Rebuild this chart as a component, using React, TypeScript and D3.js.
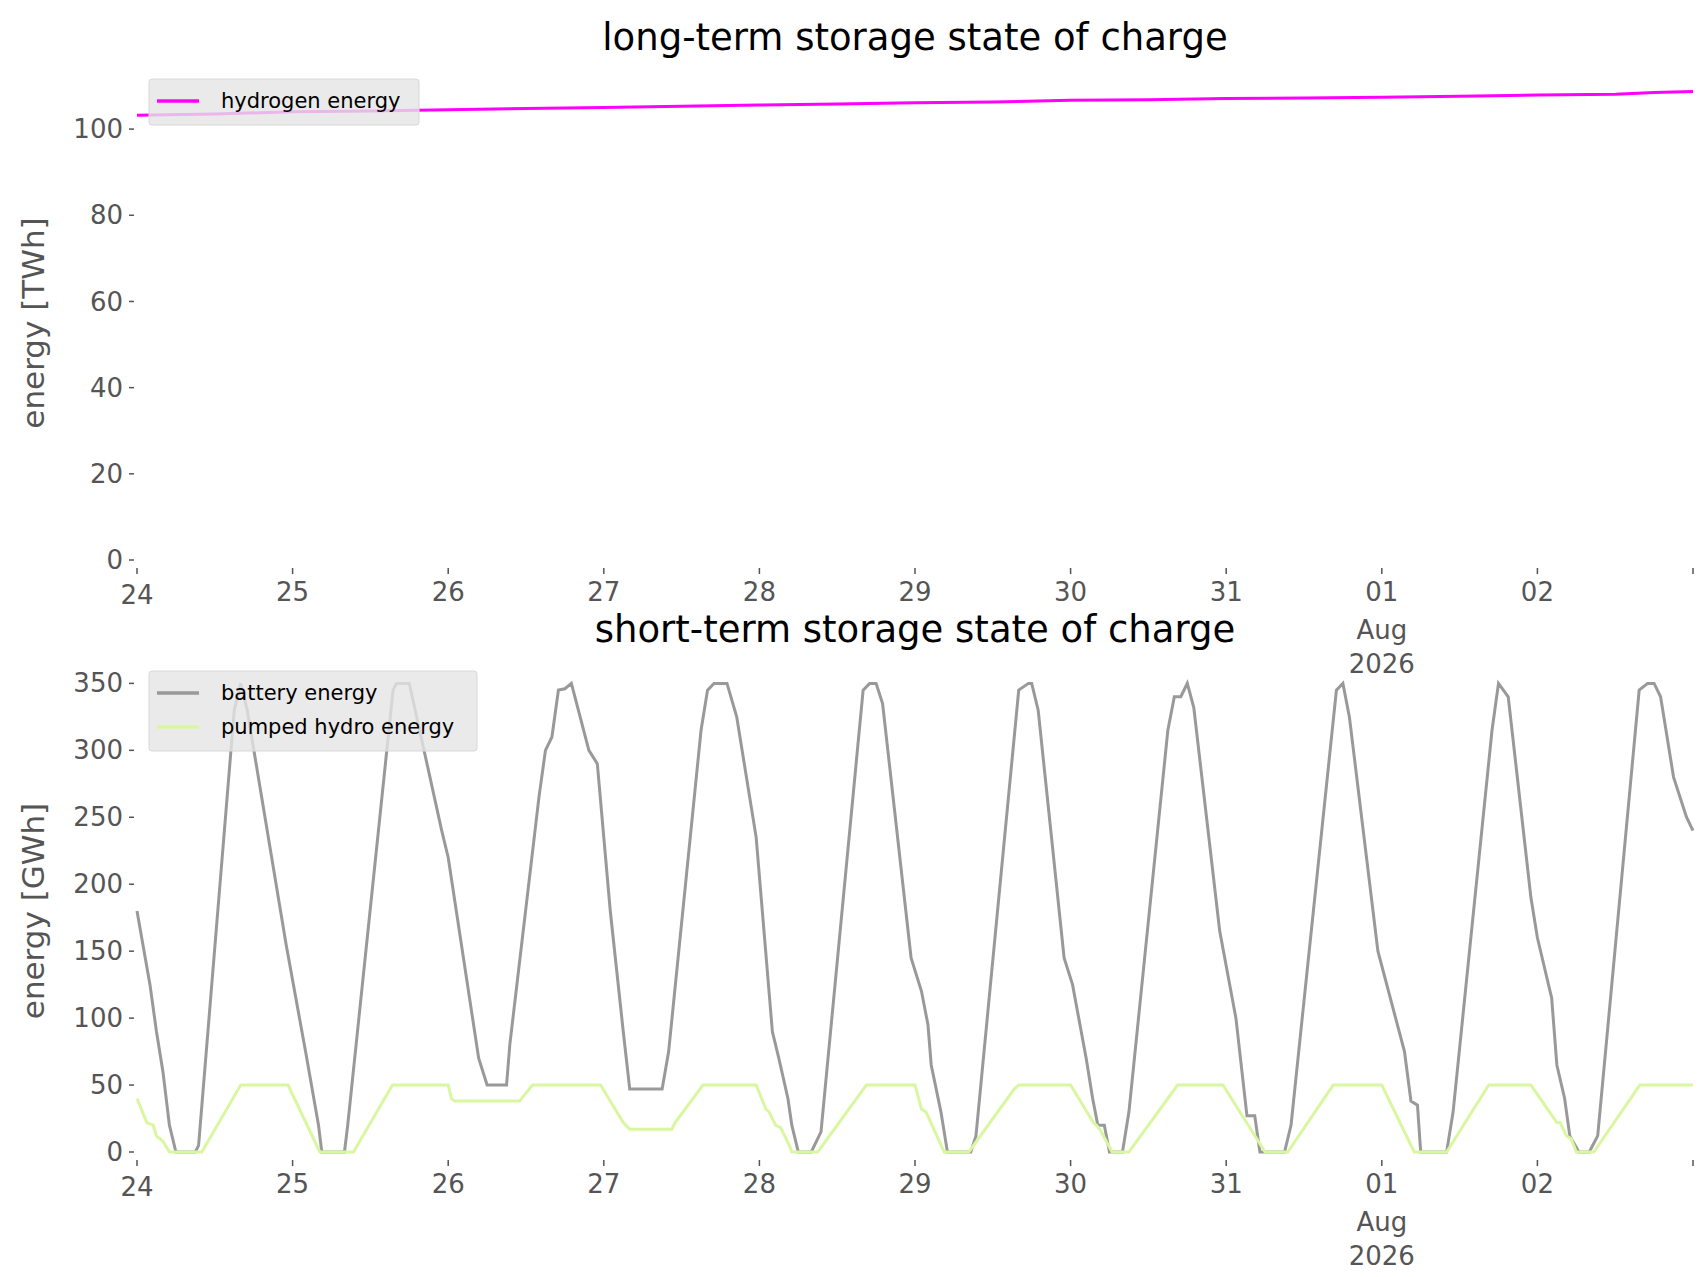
import * as d3 from 'd3'

// hours from 2026-07-24 00:00, value
const batteryHours = [0, 2, 3, 4, 5, 6, 9, 9.5, 15, 16, 17, 23,
    26, 28, 28.5, 32, 32.5, 39.5, 40, 42, 47, 48,
    52.7, 54, 57, 57.5, 62, 63, 64, 65, 66, 67, 69.7, 71,
    73, 75, 76, 81, 82, 87, 88, 89, 91, 92.5, 95.5,
    98, 99, 100.4, 101, 102, 104, 105.5, 112, 113, 114, 115, 119.4,
    121, 122, 122.5, 124, 125, 128.6, 129.4, 136, 137.5, 138, 139, 143,
    144.3, 146.4, 147.4, 148.2, 149.2, 150, 152, 153, 159, 160, 161, 162, 163, 167,
    169.5, 171.2, 172.4, 173.2, 177, 178, 185, 186, 187, 191.4,
    195.5, 196.5, 197.5, 198, 202, 203, 209, 210, 211.5, 215, 216,
    218.2, 219, 220.2, 221, 222.4, 224, 225.3, 231.7, 233, 234, 235, 237, 239, 240]
const batteryValues = [180, 125, 90, 60, 20, 0, 0, 5, 330, 350, 330, 155,
    75, 20, 0, 0, 20, 345, 350, 350, 240, 220,
    70, 50, 50, 80, 265, 300, 310, 345, 346, 350, 300, 290,
    180, 90, 47, 47, 75, 315, 345, 350, 350, 325, 235,
    90, 70, 40, 20, 0, 0, 15, 345, 350, 350, 335, 145,
    120, 95, 65, 30, 0, 0, 12, 345, 350, 350, 330, 145,
    125, 70, 40, 20, 20, 0, 0, 30, 315, 340, 340, 350, 332, 165,
    100, 27, 27, 0, 0, 20, 345, 350, 325, 150,
    75, 38, 35, 0, 0, 30, 315, 350, 340, 190, 160,
    115, 65, 40, 12, 0, 0, 12, 345, 350, 350, 340, 280, 250, 240]

const hydroHours = [0, 1.5, 2.5, 3, 4, 5, 10, 16, 23.3,
    28.2, 33.4, 39.4, 48, 48.5, 49, 59, 61, 71.5,
    75, 76, 82.5, 83, 87.3, 95.5,
    97, 97.5, 98.5, 99.3, 100.8, 101, 105, 112.5, 120,
    121, 121.7, 124.5, 128.3, 135.3, 136, 144,
    147.5, 148, 148.5, 150.4, 153, 160.5, 167.5,
    174, 177.5, 184.5, 192,
    197, 202, 208.5, 215,
    219, 219.5, 220.5, 221.2, 222, 224.7, 231.8, 240]
const hydroValues = [40, 22, 20, 12, 8, 0, 0, 50, 50,
    0, 0, 50, 50, 40, 38, 38, 50, 50,
    22, 17, 17, 22, 50, 50,
    32, 30, 20, 18, 3, 0, 0, 50, 50,
    32, 30, 0, 0, 47, 50, 50,
    22, 20, 17, 0, 0, 50, 50,
    0, 0, 50, 50,
    0, 0, 50, 50,
    22, 22, 12, 10, 0, 0, 50, 50]

const hydrogenHours = [0, 12, 24, 36, 48, 60, 72, 84, 96, 108, 120, 132, 144, 156, 168, 180, 192, 204, 216, 228, 234, 240]
const hydrogenValues = [103.2, 103.5, 104, 104.2, 104.5, 104.8, 105, 105.3, 105.6, 105.8, 106.1, 106.3, 106.7, 106.8, 107.1, 107.2, 107.4, 107.6, 107.9, 108.1, 108.5, 108.7]

const topTicks = [0, 20, 40, 60, 80, 100]
const bottomTicks = [0, 50, 100, 150, 200, 250, 300, 350]

const start = Date.UTC(2026, 6, 24)
const toDate = (h: number) => new Date(start + h * 3600e3)
const days = d3.range(0, 11).map(d => toDate(d * 24))

const W = 1706
const H = 1277
const left = 137
const right = 1693
const font = 'DejaVu Sans, sans-serif'
const tickColor = '#555'

const x = d3.scaleUtc().domain([toDate(0), toDate(240)]).range([left, right])

function XAxis({ y0 }: { y0: number }) {
    return (
        <g>
            {days.map((d, i) => {
                const px = x(d)
                const day = d3.utcFormat('%d')(d)
                const isMonth = d.getUTCDate() === 1
                return (
                    <g key={i}>
                        <line x1={px} x2={px} y1={y0 + 8} y2={y0 + 14} stroke={tickColor} strokeWidth={1.5} />
                        {i < 10 && (
                            <text x={px} y={y0 + 41 + (i === 0 ? 3 : 0)} textAnchor="middle" fontSize={26} fill={tickColor} fontFamily={font}>
                                {day}
                                {isMonth && <tspan x={px} dy={38}>Aug</tspan>}
                                {isMonth && <tspan x={px} dy={34}>2026</tspan>}
                            </text>
                        )}
                    </g>
                )
            })}
        </g>
    )
}

function YAxis({ scale, ticks }: { scale: d3.ScaleLinear<number, number>; ticks: number[] }) {
    return (
        <g>
            {ticks.map(t => (
                <g key={t}>
                    <line x1={left - 8} x2={left - 3} y1={scale(t)} y2={scale(t)} stroke={tickColor} strokeWidth={1.5} />
                    <text x={left - 14} y={scale(t)} dy="0.35em" textAnchor="end" fontSize={26} fill={tickColor} fontFamily={font}>{t}</text>
                </g>
            ))}
        </g>
    )
}

function Legend({ x0, y0, w, items }: { x0: number; y0: number; w: number; items: { label: string; color: string }[] }) {
    const h = 12 + items.length * 34
    return (
        <g>
            <rect x={x0} y={y0} width={w} height={h} fill="#e5e5e5" fillOpacity={0.8} stroke="#d8d8d8" rx={3} />
            {items.map((it, i) => (
                <g key={it.label}>
                    <line x1={x0 + 8} x2={x0 + 50} y1={y0 + 22 + i * 34} y2={y0 + 22 + i * 34} stroke={it.color} strokeWidth={3.5} />
                    <text x={x0 + 72} y={y0 + 22 + i * 34} dy="0.35em" fontSize={21} fontFamily={font} fill="#000">{it.label}</text>
                </g>
            ))}
        </g>
    )
}

export default function App() {
    const yTop = d3.scaleLinear().domain([0, 110]).range([560, 86])
    const yBot = d3.scaleLinear().domain([0, 360]).range([1152, 670])

    const line = (ys: d3.ScaleLinear<number, number>, hours: number[], vals: number[]) =>
        d3.line<number>().x(i => x(toDate(hours[i]))).y(i => ys(vals[i]))(d3.range(hours.length)) || ''

    return (
        <svg width={W} height={H} style={{ position: 'absolute', left: 0, top: 0, background: '#fff' }}>
            <text x={(left + right) / 2} y={50} textAnchor="middle" fontSize={37} fontFamily={font}>long-term storage state of charge</text>
            <text transform={`translate(44, ${(86 + 560) / 2}) rotate(-90)`} textAnchor="middle" fontSize={31} fill={tickColor} fontFamily={font}>energy [TWh]</text>
            <YAxis scale={yTop} ticks={topTicks} />
            <XAxis y0={560} />
            <path d={line(yTop, hydrogenHours, hydrogenValues)} fill="none" stroke="#ff00ff" strokeWidth={3} />
            <Legend x0={149} y0={79} w={270} items={[{ label: 'hydrogen energy', color: '#ff00ff' }]} />

            <text x={(left + right) / 2} y={642} textAnchor="middle" fontSize={37} fontFamily={font}>short-term storage state of charge</text>
            <text transform={`translate(44, ${(670 + 1152) / 2}) rotate(-90)`} textAnchor="middle" fontSize={31} fill={tickColor} fontFamily={font}>energy [GWh]</text>
            <YAxis scale={yBot} ticks={bottomTicks} />
            <XAxis y0={1152} />
            <path d={line(yBot, batteryHours, batteryValues)} fill="none" stroke="#999" strokeWidth={3} />
            <path d={line(yBot, hydroHours, hydroValues)} fill="none" stroke="#d9f7a0" strokeWidth={3} />
            <Legend x0={149} y0={671} w={328} items={[{ label: 'battery energy', color: '#999' }, { label: 'pumped hydro energy', color: '#d9f7a0' }]} />
        </svg>
    )
}
